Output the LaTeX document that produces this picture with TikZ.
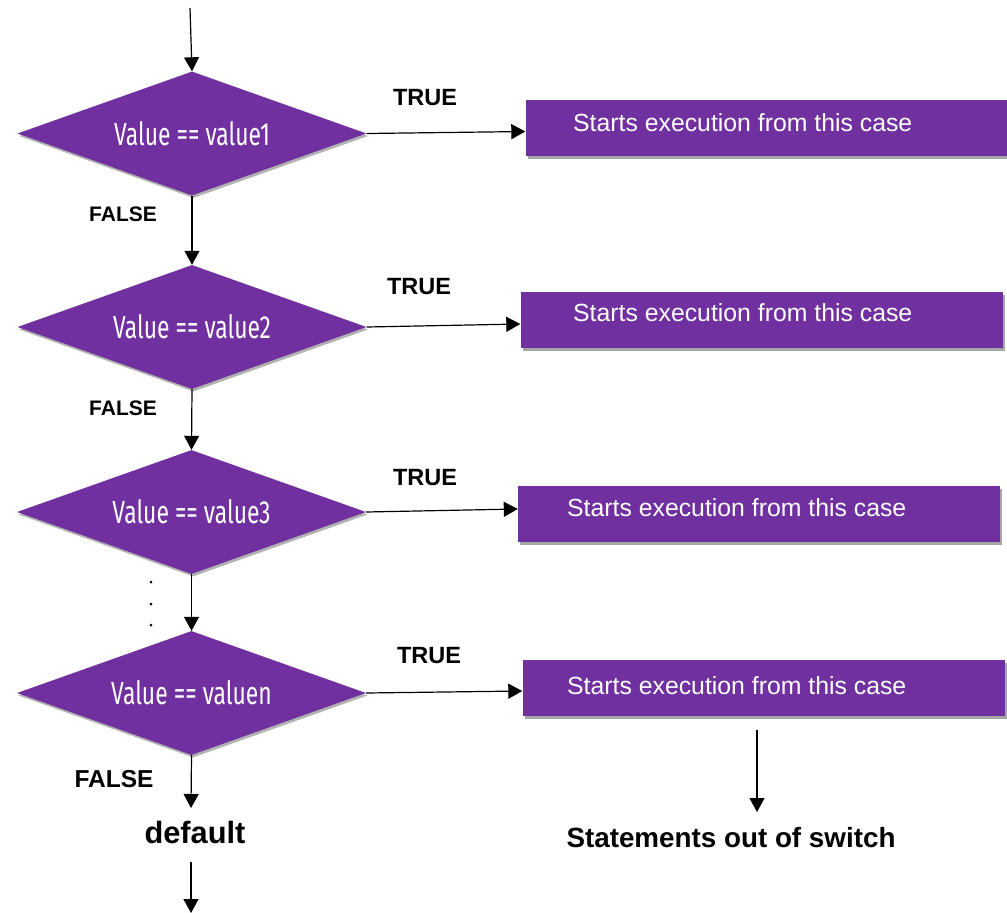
\documentclass[tikz,border=0pt]{standalone}
\usepackage{fontspec}
\setmainfont{Liberation Sans}
\newfontfamily\condfont[FakeStretch=0.715]{Fira Sans}
\usetikzlibrary{shapes.geometric,arrows.meta,shadows}
\definecolor{vio}{RGB}{112,48,160}
\tikzset{
  dia/.style={diamond, fill=vio, draw=none, minimum width=349pt, minimum height=124pt, inner sep=0pt, shape aspect=2.8,
     text=white, font=\condfont\fontsize{32}{34}\selectfont,
     drop shadow={shadow xshift=1.5pt, shadow yshift=-2.5pt, opacity=0.3, fill=black}},
  casebox/.style={rectangle, fill=vio, draw=none, minimum width=482pt, minimum height=56pt, inner sep=0pt,
     drop shadow={shadow xshift=2pt, shadow yshift=-3pt, opacity=0.35, fill=black}},
  boxtext/.style={text=white, font=\fontsize{24.8}{26}\selectfont, inner sep=0pt, anchor=west},
  lbl/.style={font=\bfseries\fontsize{23.5}{25}\selectfont, inner sep=0pt},
  flbl/.style={font=\bfseries\fontsize{21}{23}\selectfont, inner sep=0pt},
  arr/.style={line width=1.2pt, -{Triangle[width=15pt,length=14pt]}},
}
\begin{document}
\begin{tikzpicture}[x=1pt,y=-1pt]
\useasboundingbox (0,0) rectangle (1007,913);
% diamonds
\node[dia] (d1) at (192,133.5) {Value == value1};
\node[dia] (d2) at (192,327) {Value == value2};
\node[dia] (d3) at (191.5,512) {Value == value3};
\node[dia] (d4) at (191.5,693) {Value == valuen};
% boxes
\node[casebox] (b1) at (766.5,128) {};
\node[casebox] (b2) at (761.5,319.5) {};
\node[casebox] (b3) at (759,514) {};
\node[casebox] (b4) at (763.5,688) {};
\node[boxtext] (t1) at (573,123) {Starts execution from this case};
\node[boxtext] (t2) at (573,313) {Starts execution from this case};
\node[boxtext] (t3) at (567,508) {Starts execution from this case};
\node[boxtext] (t4) at (567,686) {Starts execution from this case};
% labels
\node[lbl] (tr1) at (425,98) {TRUE};
\node[lbl] (tr2) at (419,287) {TRUE};
\node[lbl] (tr3) at (425,478) {TRUE};
\node[lbl] (tr4) at (429,656) {TRUE};
\node[flbl] (f1) at (123,214) {FALSE};
\node[flbl] (f2) at (123,408) {FALSE};
\node[flbl, font=\bfseries\fontsize{24.5}{26}\selectfont] (f4) at (114,779) {FALSE};
\node[font=\bfseries\fontsize{30.8}{32}\selectfont, inner sep=0pt] (def) at (195,832) {default};
\node[font=\bfseries\fontsize{27.8}{29}\selectfont, inner sep=0pt] (stmt) at (731,838) {Statements out of switch};
% dots
\fill (151,582) circle (1.5);
\fill (151,604) circle (1.5);
\fill (151,625) circle (1.5);
% coordinates
\coordinate (top) at (190,8);
\coordinate (bot) at (191,913);
\coordinate (defin) at (191,862);
\coordinate (s0) at (757,730);
\coordinate (s1) at (757,812);
\coordinate (d0) at (191,808);
% connectors
\draw[arr] (top) -- (d1.north);
\draw[arr] (d1.south) -- (d2.north);
\draw[arr] (d2.south) -- (d3.north);
\draw[arr] (d3.south) -- (d4.north);
\draw[arr] (d4.south) -- (d0);
\draw[arr] (defin) -- (bot);
\draw[arr] (s0) -- (s1);
\draw[arr] (d1.east) -- ([yshift=2pt]d1.east -| b1.west);
\draw[arr] (d2.east) -- ([yshift=3pt]d2.east -| b2.west);
\draw[arr] (d3.east) -- ([yshift=3pt]d3.east -| b3.west);
\draw[arr] (d4.east) -- ([yshift=2pt]d4.east -| b4.west);
\end{tikzpicture}
\end{document}
